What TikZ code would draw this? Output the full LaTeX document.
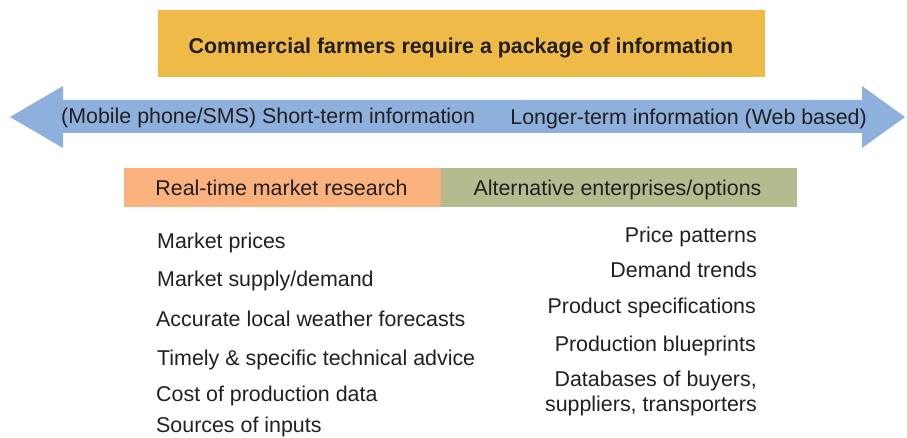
\documentclass[tikz,border=0pt]{standalone}
\usepackage{fontspec}
\setmainfont{Liberation Sans}
\definecolor{titlefill}{HTML}{F0BA48}
\definecolor{arrowfill}{HTML}{8DB0DC}
\definecolor{orangefill}{HTML}{F9B27D}
\definecolor{greenfill}{HTML}{B5BB8F}
\definecolor{txt}{HTML}{231F20}
\begin{document}
\begin{tikzpicture}[x=1pt,y=-1pt,
  lbl/.style={inner sep=0pt, text=txt, font=\fontsize{21.4}{25}\selectfont, text height=15pt, text depth=4pt}]
\useasboundingbox (0,0) rectangle (907,438);
% title
\fill[titlefill] (158,10) rectangle (765,77);
\node[lbl, font=\fontsize{21.4}{25}\selectfont\bfseries] (title) at (461,48) {Commercial farmers require a package of information};
% double arrow
\fill[arrowfill] (10,117) -- (63,86) -- (63,100) -- (862,100) -- (862,86) -- (905,117)
  -- (862,148) -- (862,133) -- (63,133) -- (63,148) -- cycle;
\node[lbl, anchor=west] (short) at (61,118) {(Mobile phone/SMS) Short-term information};
\node[lbl, anchor=east] (long) at (867,119) {Longer-term information (Web based)};
% category boxes
\fill[orangefill] (124,168) rectangle (441,207);
\fill[greenfill] (441,168) rectangle (797,207);
\node[lbl] (rt) at (281.5,190) {Real-time market research};
\node[lbl] (alt) at (617.5,190) {Alternative enterprises/options};
% left list
\node[lbl, anchor=west] (l1) at (157,243) {Market prices};
\node[lbl, anchor=west] (l2) at (157,281) {Market supply/demand};
\node[lbl, anchor=west] (l3) at (156,321) {Accurate local weather forecasts};
\node[lbl, anchor=west] (l4) at (157,360) {Timely \& specific technical advice};
\node[lbl, anchor=west] (l5) at (156,396) {Cost of production data};
\node[lbl, anchor=west] (l6) at (156,427) {Sources of inputs};
% right list
\node[lbl, anchor=east] (r1) at (757,237) {Price patterns};
\node[lbl, anchor=east] (r2) at (757,272) {Demand trends};
\node[lbl, anchor=east] (r3) at (756,308) {Product specifications};
\node[lbl, anchor=east] (r4) at (756,346) {Production blueprints};
\node[inner sep=0pt, text=txt, font=\fontsize{21.4}{25}\selectfont, align=right, anchor=north east] (r5) at (757,371) {Databases of buyers,\\suppliers, transporters};
\end{tikzpicture}
\end{document}
